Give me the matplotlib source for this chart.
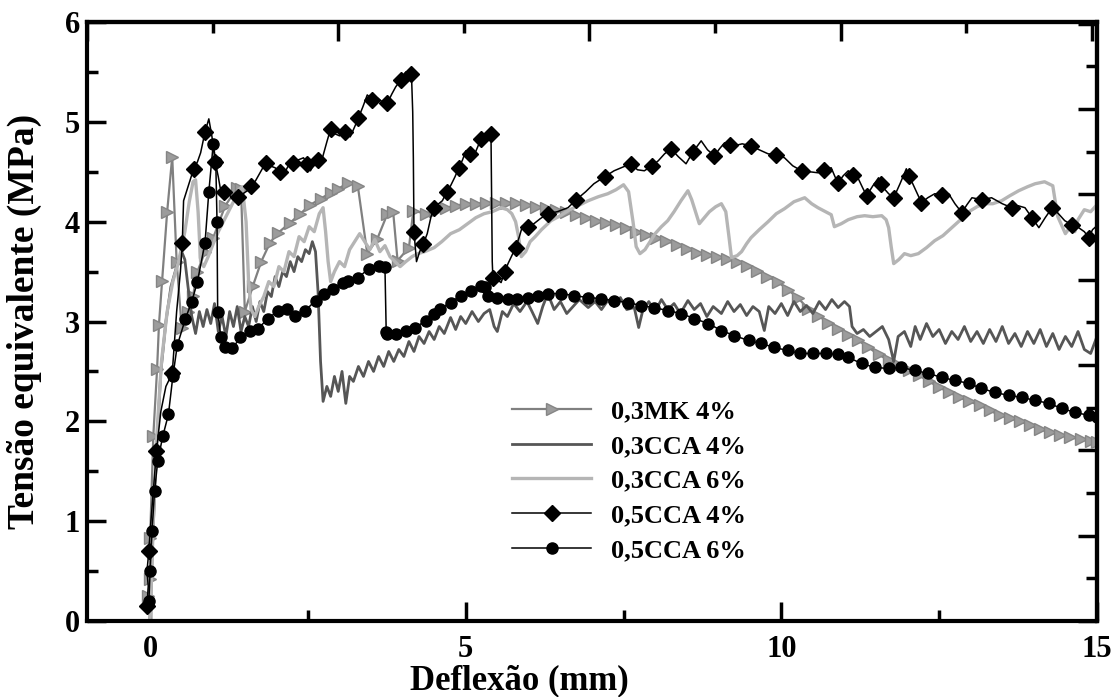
import matplotlib
matplotlib.use("Agg")
import matplotlib.pyplot as plt
from matplotlib.ticker import MultipleLocator

# ---- data (x = deflexão mm, y = tensão MPa) ----
mk_x = [-0.03, 0.0, 0.0, 0.05, 0.11, 0.14, 0.19, 0.27, 0.35, 0.42, 0.5, 0.6, 0.68, 0.75, 0.87,
        1.0, 1.19, 1.38, 1.44, 1.5, 1.63, 1.76, 1.9, 2.03, 2.22, 2.38, 2.54, 2.7, 2.86, 2.98,
        3.14, 3.29, 3.44, 3.6, 3.76, 3.85, 3.92, 4.1, 4.17, 4.37, 4.52, 4.68, 4.84, 5.0, 5.16,
        5.32, 5.48, 5.63, 5.79, 5.95, 6.11, 6.27, 6.43, 6.59, 6.75, 6.91, 7.06, 7.22, 7.38, 7.54,
        7.7, 7.86, 8.02, 8.18, 8.34, 8.5, 8.66, 8.82, 8.98, 9.14, 9.3, 9.46, 9.62, 9.78, 9.94,
        10.1, 10.26, 10.42, 10.58, 10.74, 10.9, 11.06, 11.22, 11.38, 11.54, 11.7, 11.86, 12.02,
        12.18, 12.34, 12.5, 12.66, 12.82, 12.98, 13.14, 13.3, 13.46, 13.62, 13.78, 13.94, 14.1,
        14.26, 14.42, 14.58, 14.74, 14.9, 15.0]
mk_y = [0.25, 0.42, 0.83, 1.85, 2.52, 2.97, 3.41, 4.1, 4.65, 3.6, 2.94, 3.1, 3.26, 3.5, 3.7,
        3.84, 4.16, 4.34, 4.33, 3.1, 3.36, 3.6, 3.79, 3.89, 3.99, 4.08, 4.17, 4.23, 4.29, 4.33,
        4.39, 4.36, 3.68, 3.83, 4.08, 4.1, 3.61, 3.74, 4.11, 4.08, 4.11, 4.14, 4.16, 4.18, 4.18,
        4.19, 4.19, 4.19, 4.19, 4.17, 4.15, 4.14, 4.12, 4.1, 4.07, 4.04, 4.01, 3.99, 3.97, 3.94,
        3.9, 3.87, 3.84, 3.81, 3.77, 3.73, 3.69, 3.67, 3.65, 3.63, 3.6, 3.56, 3.51, 3.45, 3.4,
        3.32, 3.24, 3.13, 3.06, 2.99, 2.93, 2.87, 2.81, 2.74, 2.67, 2.61, 2.56, 2.51,
        2.46, 2.4, 2.34, 2.29, 2.24, 2.2, 2.16, 2.11, 2.06, 2.03, 2.0, 1.96, 1.92,
        1.89, 1.86, 1.84, 1.82, 1.8, 1.79]

cca4_x = [0.0, 0.04, 0.1, 0.17, 0.25, 0.33, 0.42, 0.5, 0.55, 0.6, 0.66, 0.72, 0.78, 0.84, 0.9,
          0.96, 1.02, 1.08, 1.14, 1.2, 1.26, 1.32, 1.38, 1.44, 1.5, 1.56, 1.62, 1.68, 1.74, 1.8,
          1.86, 1.92, 1.98, 2.04, 2.1, 2.16, 2.22, 2.28, 2.34, 2.4, 2.46, 2.52, 2.57, 2.62, 2.66,
          2.7, 2.74, 2.8, 2.86, 2.92, 2.98, 3.04, 3.1, 3.16, 3.22, 3.3, 3.38, 3.46, 3.54, 3.62,
          3.7, 3.78, 3.86, 3.94, 4.02, 4.1, 4.18, 4.26, 4.34, 4.42, 4.5, 4.58, 4.66, 4.76, 4.84,
          4.92, 5.0, 5.1, 5.2, 5.29, 5.38, 5.45, 5.5, 5.58, 5.66, 5.76, 5.86, 5.97, 6.05, 6.14,
          6.22, 6.3, 6.4, 6.5, 6.6, 6.7, 6.8, 6.94, 7.05, 7.15, 7.25, 7.35, 7.45, 7.55, 7.67,
          7.74, 7.8, 7.9, 8.0, 8.1, 8.2, 8.3, 8.4, 8.52, 8.62, 8.72, 8.82, 8.92, 9.05, 9.15,
          9.25, 9.35, 9.45, 9.55, 9.65, 9.73, 9.8, 9.9, 10.0, 10.1, 10.2, 10.3, 10.4, 10.5, 10.6,
          10.7, 10.8, 10.9, 11.0, 11.08, 11.12, 11.2, 11.3, 11.4, 11.5, 11.6, 11.7, 11.78, 11.85,
          11.95, 12.05, 12.12, 12.2, 12.3, 12.4, 12.5, 12.6, 12.7, 12.8, 12.9, 13.0, 13.1, 13.2,
          13.3, 13.4, 13.5, 13.6, 13.7, 13.8, 13.9, 14.0, 14.1, 14.2, 14.3, 14.4, 14.5, 14.6,
          14.7, 14.8, 14.9, 15.0]
cca4_y = [0.0, 0.8, 1.7, 2.5, 3.0, 3.35, 3.55, 3.7, 3.62, 3.35, 3.05, 2.88, 3.1, 2.95, 3.12,
          2.98, 3.18, 2.9, 3.05, 2.85, 3.1, 2.95, 3.15, 2.9, 3.05, 2.95, 3.15, 3.0, 3.2, 3.1,
          3.3, 3.25, 3.45, 3.35, 3.5, 3.45, 3.6, 3.5, 3.65, 3.6, 3.72, 3.68, 3.8, 3.7, 3.3,
          2.6, 2.2, 2.35, 2.25, 2.45, 2.3, 2.5, 2.18, 2.45, 2.4, 2.55, 2.45, 2.6, 2.5, 2.65,
          2.55, 2.7, 2.6, 2.72, 2.65, 2.8, 2.7, 2.85, 2.78, 2.9, 2.82, 2.95, 2.88, 3.04, 2.92,
          3.05, 2.98, 3.1, 3.0, 3.08, 3.12, 2.95, 2.9, 3.1, 3.05, 3.18, 3.1, 3.2, 3.1, 2.98,
          3.15, 3.28, 3.12, 3.2, 3.08, 3.15, 3.22, 3.14, 3.2, 3.12, 3.21, 3.15, 3.24, 3.12, 3.14,
          2.94, 3.1, 3.2, 3.1, 3.22, 3.12, 3.18, 3.08, 3.21, 3.12, 3.18, 3.05, 3.15, 3.08, 3.2,
          3.1, 3.17, 3.06, 3.15, 3.1, 2.91, 3.15, 3.08, 3.18, 3.06, 3.2, 3.1, 3.16, 3.08, 3.2,
          3.12, 3.22, 3.14, 3.2, 3.15, 2.95, 2.88, 2.92, 2.85, 2.9, 2.95, 2.82, 2.6, 2.85,
          2.9, 2.75, 2.95, 2.82, 2.98, 2.85, 2.92, 2.78, 2.9, 2.82, 2.95, 2.8, 2.9, 2.78,
          2.92, 2.8, 2.95, 2.78, 2.88, 2.75, 2.9, 2.78, 2.92, 2.75, 2.88, 2.72, 2.85, 2.75,
          2.9, 2.72, 2.68, 2.85]

cca6_x = [0.0, 0.05, 0.1, 0.18, 0.27, 0.36, 0.45, 0.55, 0.62, 0.68, 0.72, 0.76, 0.8, 0.85, 0.92,
          1.0, 1.08, 1.16, 1.24, 1.32, 1.4, 1.46, 1.52, 1.56, 1.6, 1.66, 1.72, 1.8, 1.88, 1.96,
          2.04, 2.12, 2.2, 2.28, 2.36, 2.44, 2.52, 2.6, 2.68, 2.74, 2.78, 2.82, 2.86, 2.92, 3.0,
          3.08, 3.16, 3.24, 3.32, 3.4, 3.48, 3.56, 3.64, 3.72, 3.8, 3.88, 3.96, 4.05, 4.15, 4.24,
          4.35, 4.5, 4.62, 4.76, 4.9, 5.03, 5.16, 5.29, 5.42, 5.56, 5.66, 5.73, 5.79, 5.84, 5.88,
          5.95, 6.02, 6.1, 6.2, 6.35, 6.5, 6.62, 6.78, 6.94, 7.1, 7.25, 7.38, 7.5, 7.58, 7.65,
          7.7, 7.76, 7.84, 7.92, 8.0, 8.1, 8.2, 8.3, 8.41, 8.52, 8.58, 8.64, 8.7, 8.78, 8.86,
          8.96, 9.05, 9.12, 9.17, 9.21, 9.3, 9.37, 9.45, 9.52, 9.65, 9.79, 9.92, 10.05, 10.2,
          10.37, 10.48, 10.58, 10.7, 10.79, 10.84, 10.95, 11.06, 11.2, 11.32, 11.45, 11.59, 11.66,
          11.7, 11.74, 11.78, 11.86, 11.95, 12.05, 12.17, 12.3, 12.43, 12.56, 12.7, 12.84, 12.97,
          13.1, 13.22, 13.35, 13.49, 13.62, 13.76, 13.9, 14.02, 14.17, 14.3, 14.34, 14.38, 14.45,
          14.5, 14.58, 14.65, 14.7, 14.8, 14.9, 15.0]
cca6_y = [0.0, 1.0, 1.8, 2.6, 3.1, 3.4, 3.6, 3.9, 4.2, 4.4, 4.42, 4.1, 3.6, 3.55, 3.65,
          3.78, 3.9, 4.0, 4.1, 4.2, 4.32, 4.35, 4.0, 3.4, 3.12, 3.05, 3.15, 3.25, 3.4, 3.35,
          3.55, 3.5, 3.7, 3.65, 3.85, 3.8, 3.95, 3.9, 4.08, 4.14, 3.9, 3.6, 3.4, 3.5, 3.6,
          3.55, 3.72, 3.8, 3.88, 3.8, 3.72, 3.82, 3.7, 3.76, 3.65, 3.6, 3.55, 3.6, 3.65, 3.68,
          3.7, 3.74, 3.8, 3.88, 3.92, 3.98, 4.04, 4.08, 4.1, 4.14, 4.12, 4.08, 4.0, 3.84, 3.65,
          3.7, 3.8, 3.85, 3.92, 4.01, 4.06, 4.11, 4.16, 4.21, 4.25, 4.28, 4.32, 4.37, 4.3, 4.0,
          3.75, 3.68, 3.72, 3.8, 3.88, 3.95, 4.01, 4.1, 4.21, 4.31, 4.22, 4.1, 3.98, 4.04, 4.1,
          4.15, 4.18, 4.1, 3.85, 3.64, 3.66, 3.7, 3.78, 3.84, 3.92, 4.0, 4.08, 4.13, 4.2,
          4.24, 4.18, 4.14, 4.1, 4.07, 3.95, 3.98, 4.02, 4.05, 4.06, 4.05, 4.06, 4.02,
          3.94, 3.75, 3.58, 3.62, 3.68, 3.66, 3.68, 3.74, 3.81, 3.86, 3.94, 4.02, 4.1,
          4.15, 4.18, 4.18, 4.21, 4.26, 4.31, 4.35, 4.38, 4.4, 4.36, 4.2, 4.05, 3.95,
          3.88, 3.95, 3.9, 4.02, 4.12, 4.1, 4.17]

d4_x = [-0.05, -0.03, -0.05, -0.02, 0.0, 0.05, 0.1, 0.17, 0.25, 0.35, 0.42, 0.48, 0.51, 0.53,
        0.6, 0.69, 0.75, 0.8, 0.87, 0.93, 0.98, 1.03, 1.08, 1.11, 1.17, 1.24, 1.32, 1.4, 1.47,
        1.54, 1.6, 1.67, 1.75, 1.83, 1.9, 1.98, 2.05, 2.11, 2.18, 2.27, 2.35, 2.43, 2.49, 2.54,
        2.6, 2.66, 2.73, 2.8, 2.86, 2.93, 3.0, 3.08, 3.17, 3.24, 3.3, 3.37, 3.44, 3.52, 3.6,
        3.68, 3.76, 3.83, 3.89, 3.97, 4.05, 4.1, 4.14, 4.16, 4.17, 4.18, 4.22, 4.27, 4.33, 4.39,
        4.45, 4.5, 4.57, 4.63, 4.7, 4.76, 4.83, 4.89, 4.95, 5.0, 5.07, 5.13, 5.19, 5.24, 5.3,
        5.37, 5.4, 5.41, 5.42, 5.43, 5.5, 5.56, 5.62, 5.67, 5.73, 5.79, 5.85, 5.9, 5.98, 6.08,
        6.18, 6.3, 6.45, 6.62, 6.75, 6.9, 7.03, 7.2, 7.35, 7.5, 7.62, 7.72, 7.83, 7.95, 8.05,
        8.15, 8.25, 8.37, 8.49, 8.6, 8.73, 8.83, 8.94, 9.02, 9.1, 9.18, 9.25, 9.38, 9.52, 9.65,
        9.79, 9.92, 10.05, 10.18, 10.32, 10.45, 10.58, 10.68, 10.79, 10.85, 10.9, 10.98, 11.06,
        11.14, 11.22, 11.28, 11.35, 11.45, 11.54, 11.58, 11.63, 11.7, 11.78, 11.88, 11.98, 12.02,
        12.06, 12.14, 12.22, 12.32, 12.43, 12.54, 12.65, 12.75, 12.86, 12.94, 13.02, 13.18,
        13.33, 13.5, 13.65, 13.75, 13.86, 13.97, 14.08, 14.18, 14.29, 14.39, 14.49, 14.6,
        14.71, 14.8, 14.87, 14.93, 15.0]
d4_y = [0.15, 0.35, 0.5, 0.7, 0.9, 1.3, 1.7, 2.1, 2.35, 2.48, 3.1, 3.5, 3.79, 4.21,
        4.35, 4.53, 4.6, 4.69, 4.9, 5.03, 4.85, 4.6, 4.45, 4.34, 4.3, 4.28, 4.22, 4.25, 4.28,
        4.31, 4.36, 4.41, 4.5, 4.59, 4.56, 4.54, 4.5, 4.46, 4.55, 4.59, 4.62, 4.64, 4.58, 4.51,
        4.58, 4.62, 4.64, 4.8, 4.93, 4.88, 4.86, 4.9, 4.85, 4.95, 5.04, 5.15, 5.27, 5.22, 5.24,
        5.2, 5.19, 5.28, 5.35, 5.42, 5.5, 5.45, 5.48, 5.1, 4.64, 3.9, 3.6, 3.7, 3.78, 3.88,
        4.05, 4.14, 4.18, 4.21, 4.3, 4.36, 4.45, 4.54, 4.62, 4.71, 4.68, 4.66, 4.75, 4.83, 4.86,
        4.9, 4.88, 4.2, 3.6, 3.44, 3.42, 3.39, 3.5, 3.58, 3.66, 3.74, 3.85, 3.96, 3.95, 3.98,
        4.03, 4.08, 4.1, 4.14, 4.22, 4.3, 4.38, 4.45, 4.51, 4.55, 4.58, 4.52, 4.51, 4.56, 4.61,
        4.68, 4.73, 4.65, 4.58, 4.7, 4.81, 4.72, 4.66, 4.73, 4.79, 4.77, 4.76, 4.78, 4.76, 4.72,
        4.68, 4.67, 4.64, 4.56, 4.51, 4.5, 4.49, 4.52, 4.54, 4.45, 4.39, 4.46, 4.51,
        4.47, 4.43, 4.35, 4.26, 4.36, 4.44, 4.38, 4.33, 4.28, 4.24, 4.38, 4.53, 4.46,
        4.41, 4.3, 4.19, 4.24, 4.28, 4.27, 4.28, 4.18, 4.09, 4.17, 4.24, 4.22,
        4.24, 4.18, 4.14, 4.16, 4.14, 4.04, 3.94, 4.04, 4.14, 4.08, 4.01, 3.97,
        3.94, 3.9, 3.84, 3.92, 3.96]

c6_x = [-0.02, 0.0, 0.03, 0.07, 0.12, 0.2, 0.29, 0.36, 0.43, 0.56, 0.66, 0.75, 0.87, 0.93, 1.0,
        1.04, 1.06, 1.07, 1.12, 1.19, 1.3, 1.43, 1.59, 1.71, 1.87, 2.03, 2.17, 2.3, 2.46, 2.62,
        2.75, 2.89, 3.05, 3.14, 3.3, 3.46, 3.62, 3.72, 3.74, 3.76, 3.89, 4.05, 4.2, 4.37, 4.49,
        4.6, 4.76, 4.92, 5.08, 5.24, 5.3, 5.35, 5.5, 5.67, 5.82, 5.98, 6.14, 6.3, 6.51, 6.71,
        6.94, 7.14, 7.35, 7.57, 7.78, 7.98, 8.2, 8.41, 8.62, 8.84, 9.05, 9.25, 9.48, 9.68, 9.89,
        10.1, 10.3, 10.5, 10.7, 10.9, 11.06, 11.27, 11.48, 11.7, 11.9, 12.11, 12.33, 12.54,
        12.75, 12.97, 13.17, 13.38, 13.6, 13.81, 14.02, 14.24, 14.44, 14.65, 14.87, 15.0]
c6_y = [0.2, 0.5, 0.9, 1.3, 1.6, 1.85, 2.07, 2.45, 2.76, 3.03, 3.2, 3.4, 3.79, 4.3, 4.78,
        4.6, 4.0, 3.1, 2.85, 2.74, 2.73, 2.84, 2.91, 2.93, 3.03, 3.11, 3.13, 3.06, 3.11, 3.21,
        3.28, 3.33, 3.39, 3.41, 3.44, 3.53, 3.56, 3.55, 2.9, 2.88, 2.88, 2.91, 2.94, 3.01, 3.08,
        3.13, 3.19, 3.26, 3.31, 3.36, 3.35, 3.26, 3.24, 3.23, 3.23, 3.24, 3.26, 3.28, 3.28, 3.26,
        3.24, 3.23, 3.21, 3.19, 3.16, 3.14, 3.11, 3.08, 3.03, 2.98, 2.91, 2.86, 2.81, 2.78, 2.74,
        2.71, 2.68, 2.68, 2.68, 2.67, 2.64, 2.58, 2.54, 2.53, 2.54, 2.51, 2.48, 2.44,
        2.41, 2.38, 2.33, 2.29, 2.26, 2.24, 2.21, 2.18, 2.13, 2.09, 2.06, 2.04]

labels = ["0,3MK 4%", "0,3CCA 4%", "0,3CCA 6%", "0,5CCA 4%", "0,5CCA 6%"]

plt.rcParams["font.family"] = ["Liberation Serif", "DejaVu Serif"]
plt.rcParams["font.weight"] = "bold"

fig = plt.figure(figsize=(11.14, 6.97), dpi=100)
ax = fig.add_axes([0.0781, 0.1090, 0.9066, 0.8594])

ax.plot(mk_x, mk_y, color="#808080", lw=1.6, marker=">", ms=8.5,
        mfc="#9c9c9c", mec="#858585", mew=1.0, label=labels[0])
ax.plot(cca4_x, cca4_y, color="#565656", lw=2.0, label=labels[1])
ax.plot(cca6_x, cca6_y, color="#b5b5b5", lw=2.4, label=labels[2])
ax.plot(d4_x, d4_y, color="black", lw=1.1, marker="D", ms=8, markevery=3, label=labels[3])
ax.plot(c6_x, c6_y, color="black", lw=1.1, marker="o", ms=8, label=labels[4])

ax.set_xlim(-1, 15)
ax.set_ylim(0, 6)
ax.set_xticks([0, 5, 10, 15])
ax.xaxis.set_minor_locator(MultipleLocator(2.5))
ax.set_yticks([0, 1, 2, 3, 4, 5, 6])
ax.yaxis.set_minor_locator(MultipleLocator(0.5))
ax.tick_params(which="both", direction="in", width=2.5, top=False, right=False,
               labelsize=22)
ax.tick_params(which="major", length=14)
ax.tick_params(which="minor", length=8)
ax.tick_params(axis="x", pad=10)
ax.tick_params(axis="y", pad=5)
for sp in ax.spines.values():
    sp.set_linewidth(3)

# top and right axes carry their own (unlabelled) scales, as in the original
top = ax.secondary_xaxis("top", functions=(lambda x: (x + 1) * 4.02 / 16,
                                           lambda t: t * 16 / 4.02 - 1))
top.xaxis.set_major_locator(MultipleLocator(1))
top.xaxis.set_minor_locator(MultipleLocator(0.5))
top.tick_params(which="both", direction="in", width=2.5, labeltop=False)
top.tick_params(which="major", length=14)
top.tick_params(which="minor", length=8)
top.spines["top"].set_linewidth(3)

right = ax.secondary_yaxis("right", functions=(lambda y: y * 7.02 / 6,
                                               lambda t: t * 6 / 7.02))
right.yaxis.set_major_locator(MultipleLocator(1))
right.yaxis.set_minor_locator(MultipleLocator(0.5))
right.tick_params(which="both", direction="in", width=2.5, labelright=False)
right.tick_params(which="major", length=14)
right.tick_params(which="minor", length=8)
right.spines["right"].set_linewidth(3)

ax.set_xlabel("Deflexão (mm)", fontsize=25, fontweight="bold")
ax.set_ylabel("Tensão equivalente (MPa)", fontsize=27, fontweight="bold")
ax.xaxis.set_label_coords(0.428, -0.072)
ax.yaxis.set_label_coords(-0.045, 0.5)

ax.legend(loc="center left", bbox_to_anchor=(0.4596, 0.3099), bbox_transform=fig.transFigure,
          frameon=False, fontsize=19, handlelength=3.0, handletextpad=0.75,
          labelspacing=0.43, borderpad=0, borderaxespad=0, numpoints=1)

fig.savefig("out.png", dpi=100)
